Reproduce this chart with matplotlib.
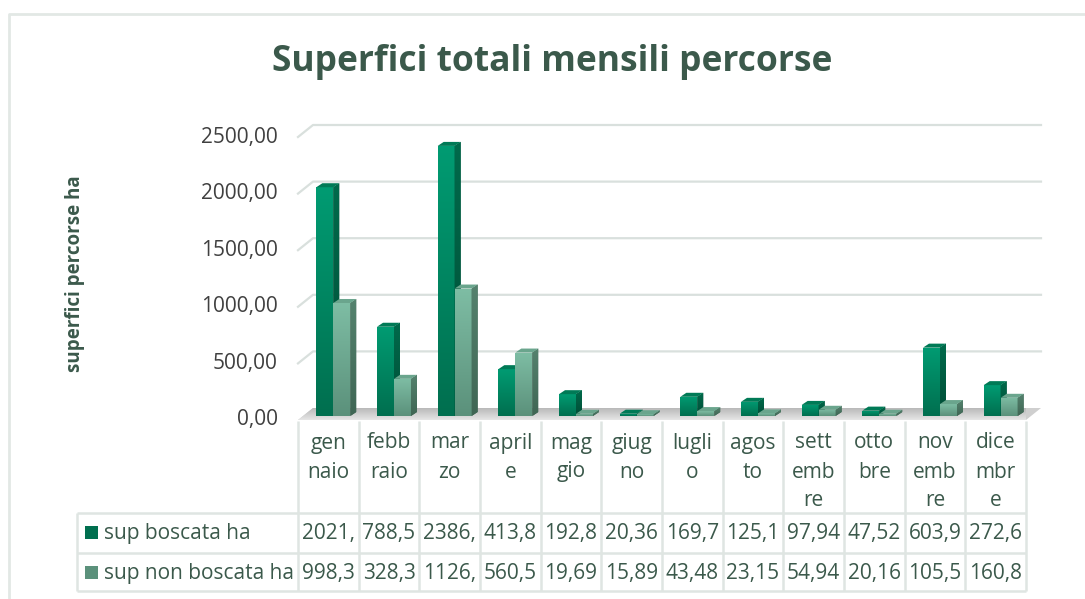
import numpy as np
import matplotlib
matplotlib.use("Agg")
import matplotlib.pyplot as plt
from matplotlib.patches import Polygon
from matplotlib.colors import LinearSegmentedColormap

# --- data ---
months = ["gennaio", "febbraio", "marzo", "aprile", "maggio", "giugno",
          "luglio", "agosto", "settembre", "ottobre", "novembre", "dicembre"]
month_labels = ["gen\nnaio", "febb\nraio", "mar\nzo", "april\ne", "mag\ngio", "giug\nno",
                "lugli\no", "agos\nto", "sett\nemb\nre", "otto\nbre", "nov\nemb\nre", "dice\nmbr\ne"]
sup_boscata = [2021.0, 788.5, 2386.0, 413.8, 192.8, 20.36, 169.7, 125.1, 97.94, 47.52, 603.9, 272.6]
sup_non_boscata = [998.3, 328.3, 1126.0, 560.5, 19.69, 15.89, 43.48, 23.15, 54.94, 20.16, 105.5, 160.8]
series_names = ["sup boscata ha", "sup non boscata ha"]
y_ticks = [0, 500, 1000, 1500, 2000, 2500]

TXT = "#3b594b"
GRID = "#d9e0dd"
FONT = "Open Sans"

W, H = 1085, 599
fig = plt.figure(figsize=(W / 100, H / 100), dpi=100)

# plot area (front plane) in pixels
x0, x1 = 298, 1026
y_top, y_base = 137, 420
ax = fig.add_axes([x0 / W, 1 - y_base / H, (x1 - x0) / W, (y_base - y_top) / H])
ax.set_xlim(-0.5, 11.5)
ax.set_ylim(0, 2500)
ax.axis("off")

px_x = 12 / (x1 - x0)          # category units per pixel
px_y = 2500 / (y_base - y_top)  # value units per pixel
wall_dx, wall_dy = 15 * px_x, 12 * px_y
off_dx, off_dy = 5 * px_x, 4 * px_y
bar_dx, bar_dy = 6 * px_x, 4 * px_y
bw = 0.28


def grad(patch, c_top, c_bot, z):
    if isinstance(patch, Polygon):
        verts = np.asarray(patch.get_xy())
        ext = (verts[:, 0].min(), verts[:, 0].max(), verts[:, 1].min(), verts[:, 1].max())
    else:
        bx, by = patch.get_x(), patch.get_y()
        ext = (bx, bx + patch.get_width(), by, by + patch.get_height())
    if ext[3] - ext[2] <= 0:
        return
    cmap = LinearSegmentedColormap.from_list("g", [c_bot, c_top])
    im = ax.imshow(np.linspace(0, 1, 64).reshape(-1, 1), cmap=cmap, extent=ext,
                   origin="lower", aspect="auto", interpolation="bilinear", zorder=z)
    im.set_clip_path(patch)


# floor
floor = Polygon([(-0.5, 0), (11.5, 0), (11.5 + wall_dx, wall_dy), (-0.5 + wall_dx, wall_dy)],
                closed=True, facecolor="#cfcfcf", edgecolor="none", zorder=1, clip_on=False)
ax.add_patch(floor)
grad(floor, "#b9b9b9", "#e6e6e6", 1.1)

# gridlines on back wall + side wall
for v in y_ticks[1:]:
    ax.plot([-0.5, -0.5 + wall_dx, 11.5 + wall_dx], [v, v + wall_dy, v + wall_dy],
            color=GRID, lw=1.6, zorder=0.5, clip_on=False)

x = np.arange(len(months))
styles = [
    # values, shift, front (top, bottom), side (top, bottom), top face, zorder
    (sup_boscata, -bw, ("#009b72", "#006f4f"), ("#006a4b", "#004d36"), "#007a56", 3),
    (sup_non_boscata, 0.0, ("#7ebda4", "#5b917b"), ("#55826e", "#3f6654"), "#6aa58d", 4),
]
for vals, shift, fcol, scol, tcol, z in styles:
    bars = ax.bar(x + shift + off_dx, vals, width=bw, bottom=off_dy, align="edge",
                  color=fcol[1], edgecolor="none", zorder=z, clip_on=False)
    for b, v in zip(bars, vals):
        grad(b, fcol[0], fcol[1], z + 0.01)
        bx, by = b.get_x(), b.get_y()
        top = by + v
        side = Polygon([(bx + bw, by), (bx + bw + bar_dx, by + bar_dy),
                        (bx + bw + bar_dx, top + bar_dy), (bx + bw, top)],
                       closed=True, facecolor=scol[1], edgecolor="none", zorder=z + 0.02, clip_on=False)
        ax.add_patch(side)
        grad(side, scol[0], scol[1], z + 0.03)
        ax.add_patch(Polygon([(bx, top), (bx + bw, top), (bx + bw + bar_dx, top + bar_dy),
                              (bx + bar_dx, top + bar_dy)],
                             closed=True, facecolor=tcol, edgecolor="none", zorder=z + 0.04, clip_on=False))

# overlay in pixel coords for text and table
ov = fig.add_axes([0, 0, 1, 1], zorder=-1)
ov.set_xlim(0, W)
ov.set_ylim(H, 0)
ov.axis("off")

# chart border
ov.plot([9, 9, W + 5], [H + 5, 14, 14], color="#e2e8e5", lw=2, solid_capstyle="butt")

ov.text(552, 62, "Superfici totali mensili percorse", fontsize=25.5, fontweight="bold",
        color=TXT, ha="center", va="center", family=FONT)
ov.text(75, 274, "superfici percorse ha", fontsize=13.5, fontweight="bold", rotation=90,
        color=TXT, ha="center", va="center", family=FONT)

for v in y_ticks:
    ax.text(-0.5 - 20 * px_x, v, f"{v:.2f}".replace(".", ","), fontsize=15, color="#404040",
            ha="right", va="center", family=FONT, clip_on=False)

# data table
colw = (x1 - x0) / 12
lbl_x0 = 77
hdr_top, r1_top, r2_top, r_bot = 421, 513, 553, 591
tl = dict(color="#dfe5e2", lw=1.8, solid_capstyle="butt")
for i in range(13):
    cx = x0 + i * colw
    ov.plot([cx, cx], [hdr_top, r_bot], **tl)
ov.plot([lbl_x0, lbl_x0], [r1_top, r_bot], **tl)
for yy in (r1_top, r2_top, r_bot):
    ov.plot([lbl_x0, x1], [yy, yy], **tl)

for i, lab in enumerate(month_labels):
    cx = x0 + (i + 0.5) * colw
    for j, part in enumerate(lab.split("\n")):
        ov.text(cx, 443 + 29 * j, part, fontsize=15, color=TXT, ha="center", va="center",
                family=FONT)


def fmt(v):
    return f"{v:.2f}".replace(".", ",")[:5]


key_cols = [("#009b72", "#006f4f"), ("#7ebda4", "#5b917b")]
for r, (vals, name, kc) in enumerate(zip([sup_boscata, sup_non_boscata], series_names, key_cols)):
    ty = (r1_top, r2_top)[r] + 20
    ov.add_patch(Polygon([(85, ty - 7), (98, ty - 7), (98, ty + 6), (85, ty + 6)],
                         closed=True, facecolor=kc[1], edgecolor="none"))
    ov.text(104, ty, name, fontsize=15, color=TXT, ha="left", va="center", family=FONT)
    for i, v in enumerate(vals):
        ov.text(x0 + (i + 0.5) * colw, ty, fmt(v), fontsize=15, color=TXT,
                ha="center", va="center", family=FONT)

fig.savefig("out.png", dpi=100)
